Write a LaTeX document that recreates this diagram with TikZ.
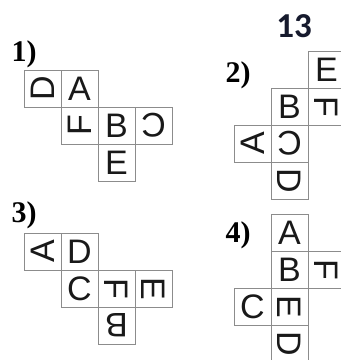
\documentclass[tikz,border=0pt]{standalone}
\usepackage{fontspec}
\setmainfont{Liberation Serif}
\newfontfamily\cellfont{Liberation Sans}
\newfontfamily\numfont{Carlito}
\usepackage{xcolor}
\definecolor{netgray}{RGB}{140,140,140}
\definecolor{titleblue}{RGB}{22,26,45}

\tikzset{
  cell/.style={draw=netgray, line width=0.8pt, minimum size=37pt, inner sep=0pt, outer sep=0pt,
    font=\cellfont\fontsize{34}{34}\selectfont, text=black!90},
  tag/.style={font=\bfseries\fontsize{30}{30}\selectfont, inner sep=0pt}
}

\begin{document}
\begin{tikzpicture}[x=1pt,y=-1pt]
\useasboundingbox (0,0) rectangle (341,360);
\clip (0,0) rectangle (341,360);
\node[font=\numfont\bfseries\fontsize{35}{35}\selectfont, text=titleblue, inner sep=0pt] (title) at (294,26) {13};
% net 1
\node[tag] (n1) at (24,54) {1)};
\node[cell, rotate=90] (d1) at (42.5,88.5) {D};
\node[cell] (a1) at (79.5,88.5) {A};
\node[cell, rotate=90] (f1) at (79.5,125.5) {F};
\node[cell] (b1) at (116.5,125.5) {B};
\node[cell, rotate=180] (c1) at (153.5,125.5) {C};
\node[cell] (e1) at (116.5,162.5) {E};
% net 2
\node[tag] (n2) at (238,75) {2)};
\node[cell] (e2) at (326.5,69.5) {E};
\node[cell] (b2) at (289.5,106.5) {B};
\node[cell, rotate=-90] (f2) at (326.5,106.5) {F};
\node[cell, rotate=90] (a2) at (252.5,143.5) {A};
\node[cell, rotate=180] (c2) at (289.5,143.5) {C};
\node[cell, rotate=-90] (d2) at (289.5,180.5) {D};
% net 3
\node[tag] (n3) at (24,215) {3)};
\node[cell, rotate=90] (a3) at (42.5,251.5) {A};
\node[cell] (d3) at (79.5,251.5) {D};
\node[cell] (c3) at (79.5,288.5) {C};
\node[cell, rotate=-90] (f3) at (116.5,288.5) {F};
\node[cell, rotate=-90] (e3) at (153.5,288.5) {E};
\node[cell, rotate=180] (b3) at (116.5,325.5) {B};
% net 4
\node[tag] (n4) at (238,235) {4)};
\node[cell] (a4) at (289.5,232.5) {A};
\node[cell] (b4) at (289.5,269.5) {B};
\node[cell, rotate=-90] (f4) at (326.5,269.5) {F};
\node[cell] (c4) at (252.5,306.5) {C};
\node[cell, rotate=-90] (e4) at (289.5,306.5) {E};
\node[cell, rotate=-90] (d4) at (289.5,343.5) {D};
\end{tikzpicture}
\end{document}
